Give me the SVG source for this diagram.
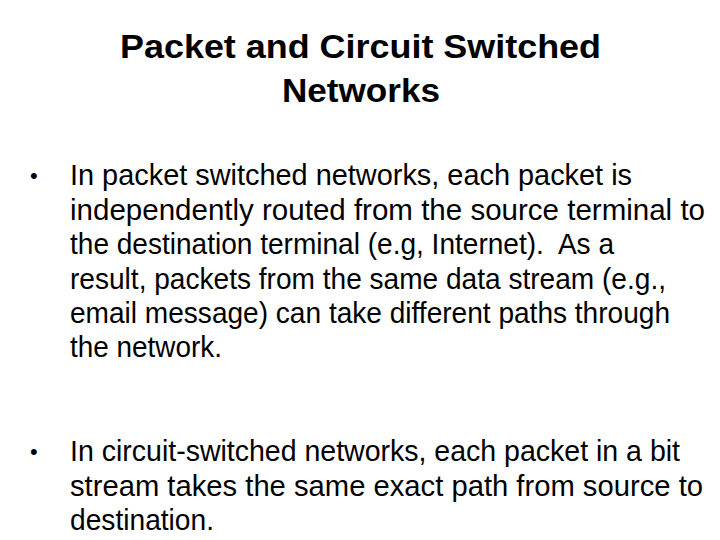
<svg xmlns="http://www.w3.org/2000/svg" width="720" height="540" viewBox="0 0 720 540">
<style>
.t{font-family:"Liberation Sans",Arial,sans-serif;font-weight:bold;font-size:34px;fill:#000}
.b{font-family:"Liberation Sans",Arial,sans-serif;font-size:29px;fill:#000}
.d{font-family:"Liberation Sans",Arial,sans-serif;font-size:22px;fill:#000}
</style>
<rect width="720" height="540" fill="#fff"/>
<g id="title">
<text class="t" x="120" y="58" textLength="481" lengthAdjust="spacingAndGlyphs">Packet and Circuit Switched</text>
<text class="t" x="282" y="102" textLength="158" lengthAdjust="spacingAndGlyphs">Networks</text>
</g>
<g id="bullet1">
<text class="d" x="30" y="183">•</text>
<text class="b" x="70" y="185" textLength="562" lengthAdjust="spacingAndGlyphs">In packet switched networks, each packet is</text>
<text class="b" x="70" y="220" textLength="635" lengthAdjust="spacingAndGlyphs">independently routed from the source terminal to</text>
<text class="b" x="70" y="254" textLength="544" lengthAdjust="spacingAndGlyphs" xml:space="preserve">the destination terminal (e.g, Internet).  As a</text>
<text class="b" x="70" y="289" textLength="596" lengthAdjust="spacingAndGlyphs">result, packets from the same data stream (e.g.,</text>
<text class="b" x="70" y="323" textLength="600" lengthAdjust="spacingAndGlyphs">email message) can take different paths through</text>
<text class="b" x="70" y="357" textLength="152" lengthAdjust="spacingAndGlyphs">the network.</text>
</g>
<g id="bullet2">
<text class="d" x="30" y="459">•</text>
<text class="b" x="70" y="461" textLength="610" lengthAdjust="spacingAndGlyphs">In circuit-switched networks, each packet in a bit</text>
<text class="b" x="70" y="496" textLength="633" lengthAdjust="spacingAndGlyphs">stream takes the same exact path from source to</text>
<text class="b" x="70" y="530" textLength="144" lengthAdjust="spacingAndGlyphs">destination.</text>
</g>
</svg>
